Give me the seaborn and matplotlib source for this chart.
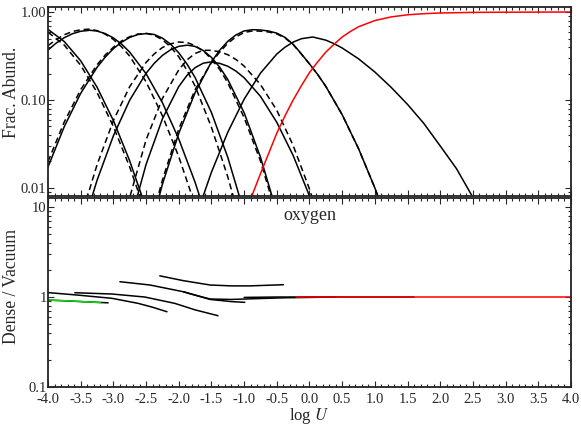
import matplotlib
matplotlib.use("Agg")
import matplotlib.pyplot as plt
import seaborn as sns
import numpy as np
from matplotlib.ticker import MultipleLocator, LogLocator, NullFormatter, FormatStrFormatter

# ---- top panel: ion fractions (solid = vacuum, dashed = dense) ----
x1 = [-4.0, -3.75, -3.5, -3.25, -3.0, -2.75, -2.5]
f1 = [0.635, 0.461, 0.279, 0.140, 0.0585, 0.0203, 0.0059]
d1 = [0.59, 0.42, 0.248, 0.122, 0.050, 0.0173, 0.0050]

x2 = [-4.0, -3.875, -3.75, -3.625, -3.5, -3.36, -3.25, -3.125, -3.0, -2.875, -2.75, -2.5, -2.25, -2.0, -1.75, -1.5]
f2 = [0.370, 0.443, 0.511, 0.567, 0.604, 0.62, 0.608, 0.569, 0.508, 0.432, 0.350, 0.199, 0.0933, 0.0361, 0.0116, 0.0031]
d2 = [0.414, 0.487, 0.552, 0.601, 0.628, 0.64, 0.614, 0.560, 0.488, 0.402, 0.315, 0.161, 0.0662, 0.0227, 0.0064, 0.0015]

x3 = [-4.0, -3.75, -3.5, -3.25, -3.125, -3.0, -2.875, -2.75, -2.625, -2.49, -2.375, -2.25, -2.125, -2.0, -1.875, -1.75, -1.5, -1.25, -1.0]
f3 = [0.0173, 0.050, 0.119, 0.235, 0.307, 0.383, 0.454, 0.514, 0.555, 0.57, 0.555, 0.505, 0.431, 0.344, 0.257, 0.180, 0.072, 0.0223, 0.0053]
d3 = [0.0199, 0.0565, 0.131, 0.251, 0.324, 0.398, 0.468, 0.524, 0.561, 0.57, 0.544, 0.485, 0.401, 0.310, 0.218, 0.144, 0.049, 0.0134, 0.0029]

x4 = [-3.5, -3.25, -3.0, -2.75, -2.5, -2.375, -2.25, -2.125, -2.0, -1.87, -1.75, -1.625, -1.5, -1.375, -1.25, -1.0, -0.75, -0.5]
f4 = [0.0030, 0.0122, 0.0391, 0.0996, 0.201, 0.261, 0.321, 0.372, 0.407, 0.42, 0.406, 0.365, 0.305, 0.237, 0.171, 0.0717, 0.0224, 0.0053]
d4 = [0.0045, 0.0183, 0.0583, 0.142, 0.267, 0.334, 0.395, 0.435, 0.456, 0.45, 0.414, 0.361, 0.293, 0.223, 0.157, 0.0631, 0.0202, 0.0048]

x5 = [-3.0, -2.75, -2.5, -2.25, -2.0, -1.875, -1.75, -1.625, -1.52, -1.375, -1.25, -1.125, -1.0, -0.75, -0.5, -0.25, 0.0, 0.25]
f5 = [0.0007, 0.0039, 0.0185, 0.061, 0.142, 0.190, 0.233, 0.262, 0.27, 0.261, 0.242, 0.213, 0.179, 0.110, 0.0557, 0.0234, 0.0081, 0.0023]
d5 = [0.0014, 0.0078, 0.0352, 0.104, 0.220, 0.285, 0.338, 0.367, 0.367, 0.354, 0.327, 0.289, 0.243, 0.150, 0.0763, 0.0304, 0.0097, 0.0026]

x6 = [-2.5, -2.25, -2.0, -1.75, -1.5, -1.375, -1.25, -1.125, -1.0, -0.87, -0.75, -0.625, -0.5, -0.375, -0.25, -0.125, 0.0, 0.125, 0.25, 0.5, 0.75, 1.0, 1.25]
f6 = [0.0022, 0.011, 0.0417, 0.121, 0.271, 0.367, 0.464, 0.549, 0.609, 0.63, 0.625, 0.608, 0.575, 0.515, 0.43, 0.335, 0.257, 0.195, 0.1425, 0.068, 0.028, 0.010, 0.0031]
d6 = [0.0025, 0.0123, 0.0467, 0.131, 0.266, 0.350, 0.441, 0.522, 0.585, 0.61, 0.606, 0.593, 0.564, 0.507, 0.426, 0.333, 0.257, 0.195, 0.1425, 0.068, 0.028, 0.010, 0.0031]

x7 = [-1.75, -1.5, -1.25, -1.0, -0.75, -0.5, -0.375, -0.25, -0.125, 0.05, 0.25, 0.375, 0.5, 0.75, 1.0, 1.25, 1.5, 1.75, 2.0, 2.25, 2.5, 2.75]
f7 = [0.0044, 0.0151, 0.043, 0.102, 0.202, 0.333, 0.398, 0.455, 0.497, 0.52, 0.479, 0.437, 0.390, 0.294, 0.208, 0.139, 0.089, 0.054, 0.030, 0.0165, 0.0078, 0.0035]

# fully stripped ion (red)
x9 = [-1.0, -0.9, -0.75, -0.5, -0.375, -0.25, -0.125, 0.0, 0.125, 0.25, 0.375, 0.5, 0.625, 0.75, 1.0, 1.25, 1.5, 1.75, 2.0, 2.5, 3.0, 4.0]
f9 = [0.0045, 0.0075, 0.0145, 0.042, 0.066, 0.10, 0.145, 0.205, 0.271, 0.35, 0.43, 0.52, 0.60, 0.68, 0.80, 0.88, 0.93, 0.957, 0.975, 0.99, 0.995, 1.0]

# ---- bottom panel: dense / vacuum ratios ----
rx1 = [-4.0, -3.5, -3.08]
r1 = [0.926, 0.89, 0.862]
rx2 = [-4.0, -3.54, -3.02, -2.62, -2.4, -2.18]
r2 = [1.12, 1.05, 0.967, 0.85, 0.77, 0.686]
rx3 = [-3.59, -3.02, -2.52, -2.06, -1.75, -1.40]
r3 = [1.116, 1.08, 1.0, 0.85, 0.72, 0.62]
rx4 = [-2.90, -2.44, -1.93, -1.52, -1.2, -0.99]
r4 = [1.48, 1.36, 1.145, 0.94, 0.89, 0.873]
rx5 = [-2.29, -1.93, -1.52, -1.2, -0.91, -0.40]
r5 = [1.72, 1.52, 1.36, 1.33, 1.33, 1.37]
rx6 = [-1.93, -1.75, -1.52, -1.2, -0.8, -0.4, 0.0, 0.4]
r6 = [1.145, 1.05, 0.95, 0.94, 0.96, 0.98, 0.99, 1.0]
rx7 = [-1.0, -0.5, 0.0, 0.5, 1.0, 1.6]
r7 = [0.99, 1.0, 1.0, 1.0, 1.0, 1.0]
gx = [-4.0, -3.6, -3.2]
gr = [0.926, 0.90, 0.866]
rx9 = [-0.2, 4.0]
r9 = [1.0, 1.0]

sns.set_style("ticks")
plt.rcParams["font.family"] = ["Liberation Serif", "DejaVu Serif"]
plt.rcParams["mathtext.fontset"] = "stix"
plt.rcParams["axes.unicode_minus"] = False

fig = plt.figure(figsize=(5.81, 4.25), dpi=100)
ax1 = fig.add_axes([0.0826, 0.5388, 0.9002, 0.4447])
ax2 = fig.add_axes([0.0826, 0.0894, 0.9002, 0.4447])

lw = 1.1
solid = [(x1, f1), (x2, f2), (x3, f3), (x4, f4), (x5, f5), (x6, f6), (x7, f7)]
dashed = [(x1, d1), (x2, d2), (x3, d3), (x4, d4), (x5, d5), (x6, d6)]
for xs, ys in dashed:
    sns.lineplot(x=xs, y=ys, ax=ax1, color="black", linewidth=lw,
                 linestyle=(0, (4, 2.5)), estimator=None, sort=False)
for xs, ys in solid:
    sns.lineplot(x=xs, y=ys, ax=ax1, color="black", linewidth=lw,
                 estimator=None, sort=False)
sns.lineplot(x=x9, y=f9, ax=ax1, color="red", linewidth=lw, estimator=None, sort=False)

for xs, ys in [(rx1, r1), (rx2, r2), (rx3, r3), (rx4, r4), (rx5, r5), (rx6, r6), (rx7, r7)]:
    sns.lineplot(x=xs, y=ys, ax=ax2, color="black", linewidth=lw, estimator=None, sort=False)
sns.lineplot(x=gx, y=gr, ax=ax2, color="#00dd00", linewidth=lw, estimator=None, sort=False)
sns.lineplot(x=rx9, y=r9, ax=ax2, color="red", linewidth=lw, estimator=None, sort=False)

for ax in (ax1, ax2):
    ax.set_xlim(-4, 4)
    ax.set_yscale("log")
    ax.xaxis.set_major_locator(MultipleLocator(0.5))
    ax.xaxis.set_minor_locator(MultipleLocator(0.1))
    ax.yaxis.set_minor_locator(LogLocator(base=10, subs=np.arange(2, 10)))
    ax.yaxis.set_minor_formatter(NullFormatter())
    ax.tick_params(which="both", direction="in", top=True, right=True, width=0.8,
                   labelsize=10.5)
    ax.tick_params(which="major", length=4)
    ax.tick_params(which="minor", length=2)
    ax.tick_params(axis="y", pad=1)
    ax.tick_params(axis="x", pad=4.4)
    for s in ax.spines.values():
        s.set_linewidth(1.3)
        s.set_color("#222222")

ax1.set_ylim(0.0081, 1.14)
ax1.set_yticks([0.01, 0.1, 1.0])
ax1.set_yticklabels(["0.01", "0.10", "1.00"])
ax1.tick_params(labelbottom=False)
ax1.set_ylabel("Frac. Abund.", fontsize=12.7)
ax1.yaxis.set_label_coords(-0.053, 0.55)

ax2.set_ylim(0.1, 12.6)
ax2.set_yticks([0.1, 1.0, 10.0])
ax2.set_yticklabels(["0.1", "1", "10"])
ax2.xaxis.set_major_formatter(FormatStrFormatter("%.1f"))
ax2.set_ylabel("Dense / Vacuum", fontsize=12.7)
ax2.yaxis.set_label_coords(-0.053, 0.53)
ax2.set_xlabel("log $U$", fontsize=12)
ax2.xaxis.label.set_va("baseline")
ax2.xaxis.set_label_coords(0.5, -0.172)
ax2.text(0.5, 0.91, "oxygen", transform=ax2.transAxes, ha="center", va="center", fontsize=13)

plt.savefig("out.png", dpi=100)
